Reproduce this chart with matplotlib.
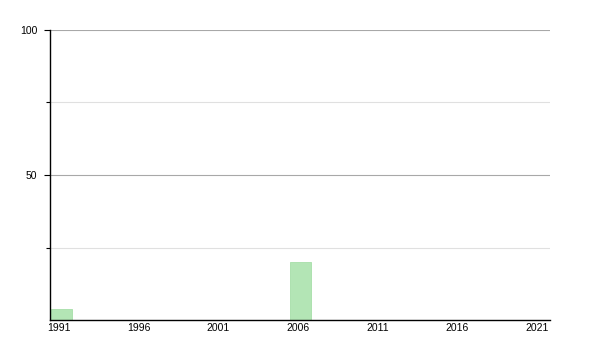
import matplotlib.pyplot as plt
from matplotlib.ticker import FixedLocator

# Données
years = [1991, 2006]
values = [3.7, 20]
tick_years = [1991, 1996, 2001, 2006, 2011, 2016, 2021]

plt.rcParams['font.family'] = ['Liberation Sans', 'DejaVu Sans']

fig = plt.figure(figsize=(6, 3.5), dpi=100)
ax = fig.add_axes([50 / 600, 30 / 350, 500 / 600, 290 / 350])

# Grille
for y in [50, 100]:
    ax.axhline(y, color='#a8a8a8', linewidth=0.8, zorder=0)
for y in [25, 75]:
    ax.axhline(y, color='#e0e0e0', linewidth=0.8, zorder=0)

# Barres
ax.bar([y - 0.5 for y in years], values, width=1.3, align='edge',
       color='#b3e5b5', edgecolor='#a6dea8', linewidth=0.6, zorder=2)

ax.set_xlim(1990.43, 2021.82)
ax.set_ylim(0, 100)

ax.set_xticks(tick_years)
ax.set_xticklabels([str(y) for y in tick_years])
ax.set_yticks([50, 100])
ax.yaxis.set_minor_locator(FixedLocator([25, 75]))

ax.tick_params(axis='x', length=0, labelsize=7.5, pad=2)
ax.tick_params(axis='y', which='major', length=4, width=0.8, labelsize=7.5, pad=5)
ax.tick_params(axis='y', which='minor', length=3, width=0.8)

for s in ['top', 'right']:
    ax.spines[s].set_visible(False)
for s in ['left', 'bottom']:
    ax.spines[s].set_linewidth(1)
    ax.spines[s].set_color('black')

fig.savefig('out.png', dpi=100)
